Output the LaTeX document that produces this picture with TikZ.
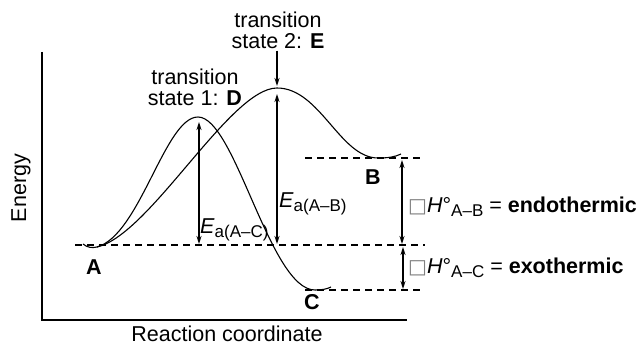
\documentclass[tikz,border=0pt]{standalone}
\usepackage{fontspec}
\setmainfont{Liberation Sans}
\newfontfamily\dejavu{DejaVu Sans}
\usetikzlibrary{arrows.meta}
\newcommand{\sub}[1]{\raisebox{-4.5pt}{\fontsize{17}{18}\selectfont #1}}
\newcommand{\boxglyph}{{\dejavu\color{gray}\fontsize{20}{20}\selectfont □}}
\begin{document}
\begin{tikzpicture}[x=1pt,y=-1pt,
  lbl/.style={font=\fontsize{21.5}{22}\selectfont, inner sep=0pt},
  blbl/.style={font=\fontsize{21.5}{22}\selectfont\bfseries, inner sep=0pt},
  curve/.style={line width=1.1pt},
  axis/.style={line width=2.2pt},
  guide/.style={line width=1.6pt, dash pattern=on 7pt off 5pt},
  dbl/.style={line width=1.7pt, {Stealth[length=8pt,width=5pt]}-{Stealth[length=8pt,width=5pt]}},
  sgl/.style={line width=1.7pt, -{Stealth[length=8pt,width=5pt]}}
]
\useasboundingbox (0,0) rectangle (636,345);

% key points
\coordinate (a0) at (83,244);
\coordinate (amin) at (97,247);
\coordinate (dpk) at (198,117);
\coordinate (epk) at (277,88);
\coordinate (cmin) at (315,290);
\coordinate (c1) at (331,287);
\coordinate (bmin) at (378,158);
\coordinate (b1) at (401,154);

% axes
\coordinate (ytop) at (42,52);
\coordinate (orig) at (42,320);
\coordinate (xend) at (407,320);
\draw[axis] (ytop) -- (orig) -- (xend);

% dashed levels
\coordinate (lA0) at (75,245);  \coordinate (lA1) at (425,245);
\coordinate (lB0) at (305,158); \coordinate (lB1) at (421,158);
\coordinate (lC0) at (305,290); \coordinate (lC1) at (421,290);
\draw[guide] (lA0) -- (lA1);
\draw[guide] (lB0) -- (lB1);
\draw[guide] (lC0) -- (lC1);

% curves
\draw[curve] (a0) .. controls (88,248) and (92,248) .. (amin)
  .. controls (140,235) and (165,117) .. (dpk)
  .. controls (235,117) and (270,290) .. (cmin)
  .. controls (322,290) and (327,289) .. (c1);
\draw[curve] (amin)
  .. controls (150,235) and (230,88) .. (epk)
  .. controls (320,88) and (340,158) .. (bmin)
  .. controls (388,158) and (395,157) .. (b1);

% activation energy arrows
\coordinate (eac0) at (199,122); \coordinate (eac1) at (199,244);
\coordinate (eab0) at (277,94);  \coordinate (eab1) at (277,244);
\draw[dbl] (eac0) -- (eac1);
\draw[dbl] (eab0) -- (eab1);

% enthalpy arrows
\coordinate (hb0) at (402,160); \coordinate (hb1) at (402,244);
\coordinate (hc0) at (403,247); \coordinate (hc1) at (403,289);
\draw[dbl] (hb0) -- (hb1);
\draw[dbl] (hc0) -- (hc1);

% labels
\node[lbl, rotate=90] (energy) at (21,188) {Energy};
\node[lbl] (rc) at (227,334) {Reaction coordinate};
\node[lbl, align=center] (tsD) at (195,87) {transition\\[-1pt]state 1: \textbf{D}};
\node[lbl, align=center] (tsE) at (278,30) {transition\\[-1pt]state 2: \textbf{E}};
\coordinate (eTip) at (277,86);
\draw[sgl] (tsE.south -| eTip) ++(0,2) -- (eTip);
\node[blbl] (lA) at (94,267) {A};
\node[blbl] (lB) at (373,177) {B};
\node[blbl] (lC) at (312,302) {C};
\node[lbl, anchor=base west] (eaC) at (200,233) {\textit{E}\sub{a(A–C)}};
\node[lbl, anchor=base west] (eaB) at (279,207) {\textit{E}\sub{a(A–B)}};
\node[lbl, anchor=base west] (hB) at (408,212) {\boxglyph\textit{H}°\sub{A–B} = \textbf{endothermic}};
\node[lbl, anchor=base west] (hC) at (408,273) {\boxglyph\textit{H}°\sub{A–C} = \textbf{exothermic}};
\end{tikzpicture}
\end{document}
